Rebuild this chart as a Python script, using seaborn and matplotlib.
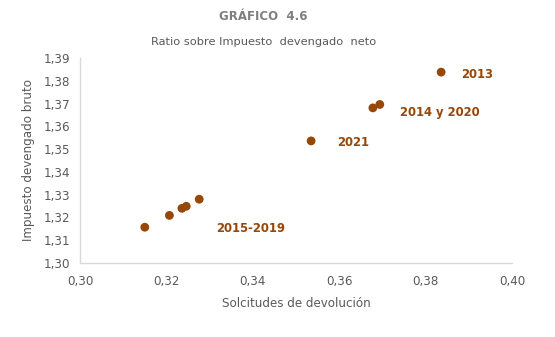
import matplotlib
matplotlib.use("Agg")
import matplotlib.pyplot as plt
import seaborn as sns
import pandas as pd

# Ratio data (Solicitudes de devolución vs Impuesto devengado bruto)
solicitudes = [0.3836, 0.3678, 0.3694, 0.3535, 0.3150, 0.3207, 0.3236, 0.3246, 0.3276]
devengado = [1.3838, 1.3681, 1.3696, 1.3536, 1.3157, 1.3209, 1.3240, 1.3249, 1.3280]

# Group labels and the point each label is attached to
label_texts = ["2013", "2014 y 2020", "2021", "2015-2019"]
label_anchor_idx = [0, 2, 3, 8]

x_ticks = [0.30, 0.32, 0.34, 0.36, 0.38, 0.40]
y_ticks = [1.30, 1.31, 1.32, 1.33, 1.34, 1.35, 1.36, 1.37, 1.38, 1.39]

df = pd.DataFrame({"x": solicitudes, "y": devengado})

sns.set_style("white")
plt.rcParams["font.family"] = ["DejaVu Sans"]

DPI = 100
fig = plt.figure(figsize=(5.55, 3.37), dpi=DPI)
ax = fig.add_axes([0.1441, 0.2196, 0.7784, 0.6083])

point_color = "#974706"
text_grey = "#595959"

sns.scatterplot(data=df, x="x", y="y", ax=ax, color=point_color, s=40,
                edgecolor="none", zorder=3)

ax.set_xlim(0.30, 0.40)
ax.set_ylim(1.30, 1.39)
ax.set_xticks(x_ticks)
ax.set_yticks(y_ticks)
ax.set_xticklabels([f"{v:.2f}".replace(".", ",") for v in x_ticks])
ax.set_yticklabels([f"{v:.2f}".replace(".", ",") for v in y_ticks])
ax.tick_params(axis="both", length=0, labelsize=8.6, colors=text_grey)
ax.tick_params(axis="x", pad=9)
ax.tick_params(axis="y", pad=7)

for side in ("top", "right"):
    ax.spines[side].set_visible(False)
for side in ("left", "bottom"):
    ax.spines[side].set_color("#D9D9D9")
    ax.spines[side].set_linewidth(1.0)

ax.set_xlabel("Solcitudes de devolución", fontsize=8.6, color=text_grey, labelpad=6)
ax.set_ylabel("Impuesto devengado bruto", fontsize=8.6, color=text_grey, labelpad=6)

# Label offsets in pixels from their anchor points
offsets_px = [(20, -2), (20, -8), (26, -2), (17, -29)]
for text, idx, (dx, dy) in zip(label_texts, label_anchor_idx, offsets_px):
    ax.annotate(text, (solicitudes[idx], devengado[idx]),
                xytext=(dx * 72 / DPI, dy * 72 / DPI), textcoords="offset points",
                ha="left", va="center", fontsize=8.4, fontweight="bold",
                color=point_color)

fig.text(0.475, 1 - 17 / 337, "GRÁFICO  4.6", ha="center", va="center",
         fontsize=8.5, fontweight="bold", color="#7F7F7F")
fig.text(0.475, 1 - 42 / 337, "Ratio sobre Impuesto  devengado  neto",
         ha="center", va="center", fontsize=8.2, color=text_grey)

fig.savefig("out.png", dpi=DPI, facecolor="white")
